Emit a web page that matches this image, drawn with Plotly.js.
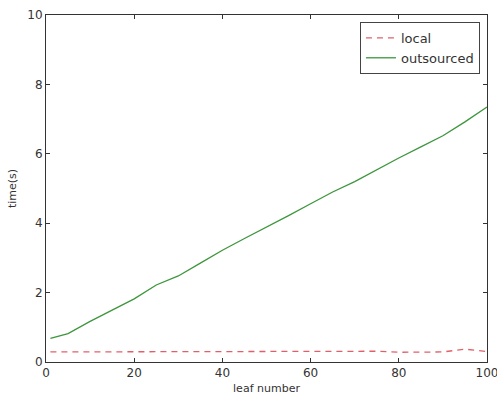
<!DOCTYPE html>
<html>
<head>
<meta charset="utf-8">
<script src="https://cdn.plot.ly/plotly-3.0.1.min.js"></script>
<style>html,body{margin:0;padding:0;background:#fff;}#chart{width:497px;height:396px;}</style>
</head>
<body>
<div id="chart"></div>
<script>
const leafNumber = [1, 5, 10, 15, 20, 25, 30, 35, 40, 45, 50, 55, 60, 65, 70, 75, 80, 85, 90, 95, 100];
const localTime = [0.29, 0.29, 0.29, 0.29, 0.29, 0.29, 0.29, 0.29, 0.31, 0.29, 0.29, 0.29, 0.29, 0.29, 0.3, 0.31, 0.28, 0.29, 0.29, 0.37, 0.3];
const outsourcedTime = [0.68, 0.82, 1.17, 1.5, 1.82, 2.22, 2.48, 2.85, 3.22, 3.56, 3.88, 4.22, 4.56, 4.9, 5.2, 5.55, 5.88, 6.2, 6.52, 6.92, 7.35];
const xTicks = [0, 20, 40, 60, 80, 100];
const yTicks = [0, 2, 4, 6, 8, 10];

const FAM = 'DejaVu Sans, sans-serif';
const tickFont = {family: FAM, size: 12, color: '#333'};
const titleFont = {family: FAM, size: 11, color: '#333'};
const traces = [
  {x: leafNumber, y: localTime, name: 'local', mode: 'lines',
   line: {color: '#e0606a', width: 1.3, dash: '6px,5px'}},
  {x: leafNumber, y: outsourcedTime, name: 'outsourced', mode: 'lines',
   line: {color: '#3d963d', width: 1.3}}
];
const axisCommon = {
  showgrid: false, zeroline: false, showline: true, linecolor: '#333', linewidth: 1,
  mirror: 'ticks', ticks: 'inside', ticklen: 4, tickcolor: '#333', tickfont: tickFont,
  ticklabeloverflow: 'allow'
};
const layout = {
  width: 497, height: 396,
  margin: {l: 46, r: 10, t: 15, b: 34},
  paper_bgcolor: '#fff', plot_bgcolor: '#fff',
  font: tickFont,
  showlegend: true,
  legend: {x: 0.984, y: 0.98, xanchor: 'right', yanchor: 'top',
    bordercolor: '#444', borderwidth: 1, bgcolor: '#fff',
    font: {family: FAM, size: 13, color: '#333'},
    itemwidth: 30, tracegroupgap: 0},
  xaxis: Object.assign({}, axisCommon, {range: [0, 100], tickvals: xTicks,
    title: {text: 'leaf number', font: titleFont, standoff: 4}}),
  yaxis: Object.assign({}, axisCommon, {range: [0, 10], tickvals: yTicks,
    title: {text: 'time(s)', font: titleFont, standoff: 8}})
};
Plotly.newPlot('chart', traces, layout, {displayModeBar: false, staticPlot: true});
</script>
</body>
</html>
